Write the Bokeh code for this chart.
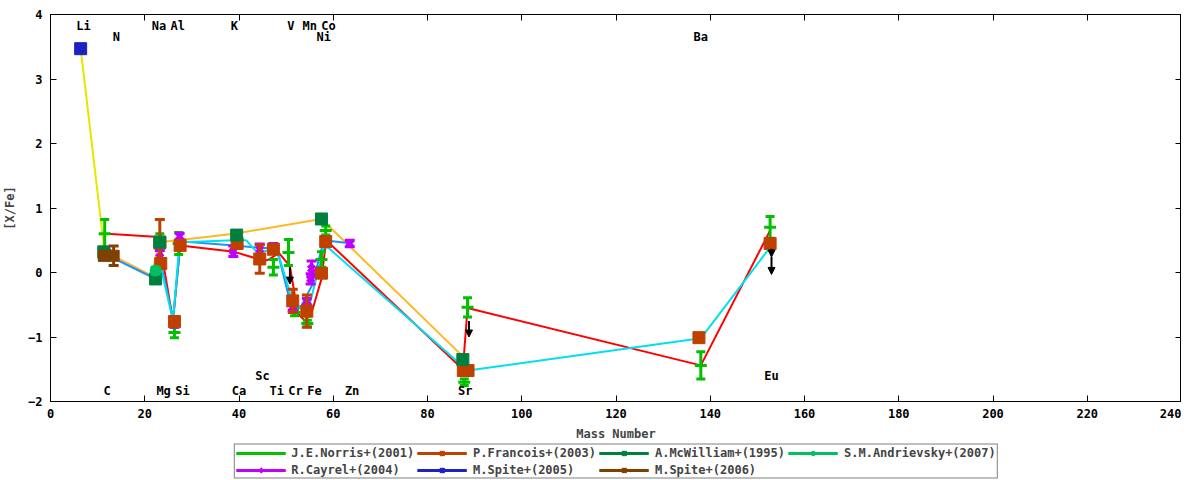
import numpy as np
from bokeh.plotting import figure
from bokeh.layouts import column
from bokeh.models import (ColumnDataSource, Legend, LegendItem, LinearAxis, Range1d,
                          Arrow, NormalHead, FixedTicker)
from bokeh.embed import file_html
from bokeh.resources import INLINE
from bokeh.core.properties import value

FONT = "DejaVu Sans Mono"

# ---------------- data ----------------
# element labels (mass number, label height in [X/Fe])
el_top = ["Li", "Na", "Al", "K", "V", "Mn", "Co"]
el_top_x = [7, 23, 27, 39, 51, 55, 59]
el_top2 = ["N", "Ni", "Ba"]
el_top2_x = [14, 58, 138]
el_bot = ["C", "Mg", "Si", "Ca", "Ti", "Cr", "Fe", "Zn", "Sr"]
el_bot_x = [12, 24, 28, 40, 48, 52, 56, 64, 88]
el_bot2 = ["Sc", "Eu"]
el_bot2_x = [45, 153]

# J.E.Norris+(2001)
norris_x = [11.5, 23.2, 26.3, 27.2, 47.3, 50.5, 51.8, 54.5, 57.5, 58.4, 88.5, 87.8, 138.0, 152.7]
norris_y = [0.60, 0.55, -0.93, 0.45, 0.08, 0.31, -0.62, -0.79, 0.20, 0.65, -0.54, -1.70, -1.44, 0.70]
norris_e = [0.22, 0.05, 0.08, 0.17, 0.12, 0.20, 0.05, 0.05, 0.12, 0.07, 0.15, 0.05, 0.21, 0.17]
# R.Cayrel+(2004)
cayrel_x = [23.2, 26.3, 27.4, 38.8, 44.4, 47.3, 51.4, 54.4, 55.4, 55.2, 63.5]
cayrel_y = [0.24, -0.80, 0.56, 0.33, 0.36, 0.40, -0.54, -0.45, 0.06, -0.10, 0.45]
cayrel_e = [0.10, 0.05, 0.05, 0.08, 0.08, 0.05, 0.05, 0.05, 0.12, 0.08, 0.05]
# P.Francois+(2003)
franc_x = [23.2, 23.4, 26.3, 27.5, 39.6, 44.4, 47.3, 51.4, 54.4, 57.5, 58.4, 87.6, 88.6, 137.6, 152.7]
franc_y = [0.46, 0.14, -0.76, 0.42, 0.45, 0.21, 0.36, -0.44, -0.60, -0.01, 0.48, -1.52, -1.52, -1.01, 0.45]
franc_e = [0.36, 0.06, 0.05, 0.04, 0.05, 0.22, 0.06, 0.18, 0.25, 0.05, 0.05, 0.04, 0.04, 0.03, 0.05]
# M.Spite+(2005)
spite05_x = [6.4, 11.5]
spite05_y = [3.47, 0.27]
spite05_e = [0.03, 0.04]
# A.McWilliam+(1995)
mcw_x = [11.3, 23.2, 22.3, 39.5, 57.5, 87.5]
mcw_y = [0.32, 0.47, -0.10, 0.58, 0.83, -1.35]
mcw_e = [0.03, 0.03, 0.03, 0.03, 0.03, 0.03]
# M.Spite+(2006)
spite06_x = [11.3, 13.4]
spite06_y = [0.26, 0.26]
spite06_e = [0.04, 0.15]
# S.M.Andrievsky+(2007)
andr_x = [22.3]
andr_y = [0.03]
andr_e = [0.05]

# connecting lines
red_x = [12, 23, 26, 27.5, 39, 44.5, 46, 48.5, 50.8, 52.5, 54, 55.5, 57.5, 58.5, 87.5, 88.5, 138, 152.7]
red_y = [0.60, 0.55, -0.75, 0.42, 0.32, 0.20, 0.19, 0.30, 0.10, -0.64, -0.75, -0.60, -0.10, 0.50, -1.50, -0.55, -1.44, 0.65]
cyan_x = [23.5, 26, 27.3, 28, 39, 41.5, 44, 46.5, 48.5, 51.5, 53.5, 55, 58, 59, 88.5, 138, 152.8]
cyan_y = [0.05, -0.75, 0.40, 0.47, 0.50, 0.50, 0.30, 0.35, 0.25, -0.48, -0.55, -0.50, 0.40, 0.38, -1.52, -1.02, 0.40]
orange_x = [13.5, 21.5, 23, 27, 39, 57.5, 87.5]
orange_y = [0.25, -0.05, 0.47, 0.50, 0.60, 0.83, -1.30]
yellow_x = [6.4, 11.5]
yellow_y = [3.47, 0.30]
blue_x = [12, 21.5, 23.3, 26, 27.5, 28, 39, 45, 48, 51, 53, 55.5, 58, 64]
blue_y = [0.27, -0.07, 0.20, -0.72, 0.40, 0.48, 0.42, 0.38, 0.38, -0.50, -0.55, -0.20, 0.50, 0.45]

# upper-limit arrows
arr_x = [50.8, 88.8, 153.0, 153.0]
arr_y0 = [0.08, -0.75, 0.37, 0.24]
arr_y1 = [-0.18, -1.00, 0.24, -0.03]

x_ticks = list(range(0, 241, 20))
y_ticks = list(range(-2, 5))

# ---------------- main figure ----------------
p = figure(width=1181, height=443, x_range=Range1d(0, 240), y_range=Range1d(-2, 4),
           output_backend="svg", toolbar_location=None,
           min_border_left=40, min_border_right=0, min_border_top=14, min_border_bottom=4,
           x_axis_label="Mass Number", y_axis_label="[X/Fe]")
p.grid.visible = False
p.outline_line_color = "black"
p.outline_line_width = 1
p.background_fill_color = "white"


def style_axis(ax, ticks):
    ax.ticker = FixedTicker(ticks=ticks)
    ax.major_tick_in = 6
    ax.major_tick_out = 0
    ax.minor_tick_line_color = None
    ax.axis_line_color = "black"
    ax.major_tick_line_color = "black"
    ax.major_label_text_font = FONT
    ax.major_label_text_font_size = "12px"
    ax.major_label_text_font_style = "bold"
    ax.major_label_text_color = "black"
    ax.axis_label_text_font = FONT
    ax.axis_label_text_font_size = "12px"
    ax.axis_label_text_font_style = "bold"


for ax in p.xaxis:
    style_axis(ax, x_ticks)
    ax.major_label_standoff = 7
    ax.axis_label_standoff = 6
for ax in p.yaxis:
    style_axis(ax, y_ticks)
    ax.major_label_standoff = 8
    ax.axis_label_standoff = 8

top_ax = LinearAxis(ticker=FixedTicker(ticks=x_ticks), major_tick_in=6, major_tick_out=0,
                    minor_tick_line_color=None, major_label_text_font_size="1px",
                    major_label_overrides={t: "" for t in x_ticks}, major_label_standoff=0)
right_ax = LinearAxis(ticker=FixedTicker(ticks=y_ticks), major_tick_in=6, major_tick_out=0,
                      minor_tick_line_color=None, major_label_text_font_size="1px",
                      major_label_overrides={t: "" for t in y_ticks}, major_label_standoff=0)
p.add_layout(top_ax, "above")
p.add_layout(right_ax, "right")

# lines
line_specs = [(yellow_x, yellow_y, "#e6e600"), (red_x, red_y, "#ff0000"),
              (orange_x, orange_y, "#ffb820"), (blue_x, blue_y, "#1e90ff"),
              (cyan_x, cyan_y, "#00e0ee")]
for lx, ly, lc in line_specs:
    p.line(lx, ly, line_color=lc, line_width=2)

# ---------------- legend strip ----------------
lg = figure(width=1181, height=36, output_backend="svg", toolbar_location=None,
            x_axis_location=None, y_axis_location=None, x_range=Range1d(-1, 0), y_range=Range1d(-1, 0),
            min_border=0, outline_line_color=None)
lg.grid.visible = False

items = {}


def add_series(xs, ys, es, color, marker, size, label, lw=1, cap=10):
    xs = np.asarray(xs, float)
    ys = np.asarray(ys, float)
    es = np.asarray(es, float)
    src = ColumnDataSource(dict(x=xs, y=ys, lo=ys - es, hi=ys + es))
    p.segment(x0="x", y0="lo", x1="x", y1="hi", source=src, line_color=color, line_width=3)
    p.scatter("x", "lo", marker="dash", size=cap, line_width=3, line_color=color, source=src)
    p.scatter("x", "hi", marker="dash", size=cap, line_width=3, line_color=color, source=src)
    p.scatter("x", "y", marker=marker, size=size, fill_color=color, line_color=color,
              line_width=lw, source=src)
    # legend sample renderers share the data but sit outside the strip's range
    s2 = lg.segment(x0="x", y0="lo", x1="x", y1="hi", source=src, line_color=color, line_width=3)
    c2 = lg.scatter("x", "y", marker=marker, size=size, fill_color=color, line_color=color,
                    line_width=lw, source=src)
    items[label] = LegendItem(label=label, renderers=[s2, c2])


add_series(norris_x, norris_y, norris_e, "#00c000", "dash", 12, "J.E.Norris+(2001)", lw=3, cap=9)
add_series(cayrel_x, cayrel_y, cayrel_e, "#c000ff", "x", 9, "R.Cayrel+(2004)", lw=4)
add_series(franc_x, franc_y, franc_e, "#c04000", "square", 12, "P.Francois+(2003)")
add_series(spite05_x, spite05_y, spite05_e, "#2020c0", "square", 12, "M.Spite+(2005)")
add_series(mcw_x, mcw_y, mcw_e, "#008040", "square", 12, "A.McWilliam+(1995)")
add_series(spite06_x, spite06_y, spite06_e, "#804000", "square", 11, "M.Spite+(2006)")
add_series(andr_x, andr_y, andr_e, "#00c060", "circle", 11, "S.M.Andrievsky+(2007)")

# arrows
asrc = ColumnDataSource(dict(x=arr_x, y0=arr_y0, y1=arr_y1))
p.add_layout(Arrow(end=NormalHead(size=7, fill_color="black", line_color="black"),
                   x_start="x", y_start="y0", x_end="x", y_end="y1", source=asrc,
                   line_color="black", line_width=2))


# element labels
def labels(names, xs, yv):
    p.text(x=xs, y=[yv] * len(xs), text=names, text_align="center", text_baseline="middle",
           text_font=value(FONT), text_font_size="12px", text_font_style="bold", text_color="black")


labels(el_top, el_top_x, 3.82)
labels(el_top2, el_top2_x, 3.65)
labels(el_bot, el_bot_x, -1.84)
labels(el_bot2, el_bot2_x, -1.60)

order = ["J.E.Norris+(2001)", "P.Francois+(2003)", "A.McWilliam+(1995)", "S.M.Andrievsky+(2007)",
         "R.Cayrel+(2004)", "M.Spite+(2005)", "M.Spite+(2006)"]
legend = Legend(items=[items[k] for k in order], orientation="horizontal", ncols=4,
                location="center", border_line_color="black", border_line_width=1,
                label_text_font=FONT, label_text_font_size="12px", label_text_font_style="bold",
                label_text_line_height=1.0,
                glyph_width=50, glyph_height=11, label_height=11, label_standoff=6,
                spacing=3, padding=1, margin=0)
lg.add_layout(legend)

layout = column(p, lg, spacing=0)
open("out.html", "w").write(file_html(layout, INLINE))
